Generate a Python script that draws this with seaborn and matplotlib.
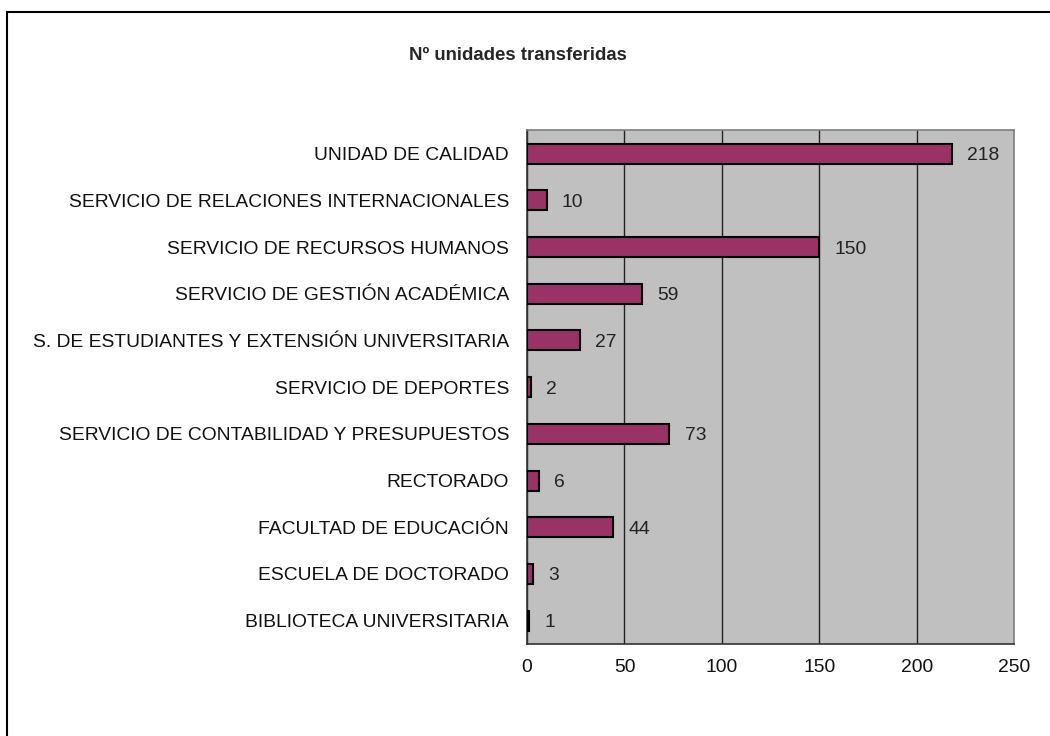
import matplotlib
matplotlib.use('Agg')
import matplotlib.pyplot as plt
from matplotlib.lines import Line2D
import seaborn as sns
import pandas as pd
import numpy as np

categories = [
    'UNIDAD DE CALIDAD',
    'SERVICIO DE RELACIONES INTERNACIONALES',
    'SERVICIO DE RECURSOS HUMANOS',
    'SERVICIO DE GESTIÓN ACADÉMICA',
    'S. DE ESTUDIANTES Y EXTENSIÓN UNIVERSITARIA',
    'SERVICIO DE DEPORTES',
    'SERVICIO DE CONTABILIDAD Y PRESUPUESTOS',
    'RECTORADO',
    'FACULTAD DE EDUCACIÓN',
    'ESCUELA DE DOCTORADO',
    'BIBLIOTECA UNIVERSITARIA',
]
values = [218, 10, 150, 59, 27, 2, 73, 6, 44, 3, 1]
x_ticks = [0, 50, 100, 150, 200, 250]
title = 'Nº unidades transferidas'

df = pd.DataFrame({'cat': categories, 'val': values})

sns.set_style('white')
plt.rcParams['font.family'] = ['Liberation Sans', 'DejaVu Sans']

fig = plt.figure(figsize=(10.5, 7.36), dpi=100)
ax = fig.add_axes([0.502, 0.125, 0.4638, 0.698])
ax.set_facecolor('#c0c0c0')

sns.barplot(data=df, y='cat', x='val', orient='h', color='#993366',
            edgecolor='black', linewidth=1.5, width=0.43, saturation=1,
            errorbar=None, ax=ax, zorder=3)

ax.set_xlim(0, 250)
ax.set_ylim(len(categories) - 0.5, -0.5)
ax.set_xticks(x_ticks)
ax.set_xticklabels([str(t) for t in x_ticks], fontsize=13.9, color='#111111')
ax.set_xlabel('')
ax.set_ylabel('')
ax.set_yticks(range(len(categories)))
ax.set_yticklabels(categories, fontsize=13.9, color='#111111')
ax.tick_params(axis='y', length=0, pad=13)
ax.set_yticks(np.arange(-0.5, len(categories), 1), minor=True)
ax.tick_params(axis='y', which='minor', length=5, direction='out', color='#333333', width=1)
ax.tick_params(axis='x', length=5, direction='out', color='#333333', width=1, pad=6)

ax.xaxis.grid(True, color='#222222', linewidth=1)
ax.set_axisbelow(True)
for side in ['top', 'right']:
    ax.spines[side].set_color('#808080')
    ax.spines[side].set_linewidth(1.2)
for side in ['left', 'bottom']:
    ax.spines[side].set_color('#333333')
    ax.spines[side].set_linewidth(1.2)

for i, v in enumerate(values):
    ax.annotate(str(v), xy=(v, i), xytext=(11, 0), textcoords='offset points',
                va='center_baseline', ha='left', fontsize=13.9, color='#222222')

fig.text(0.493, 0.925, title, ha='center', va='center', fontsize=13.4, fontweight='bold')

# partial frame around the chart area
fig.add_artist(Line2D([0.007, 0.007], [0.0, 0.984], color='black', linewidth=1.5, transform=fig.transFigure))
fig.add_artist(Line2D([0.007, 1.0], [0.984, 0.984], color='black', linewidth=1.5, transform=fig.transFigure))

fig.savefig('out.png', dpi=100)
